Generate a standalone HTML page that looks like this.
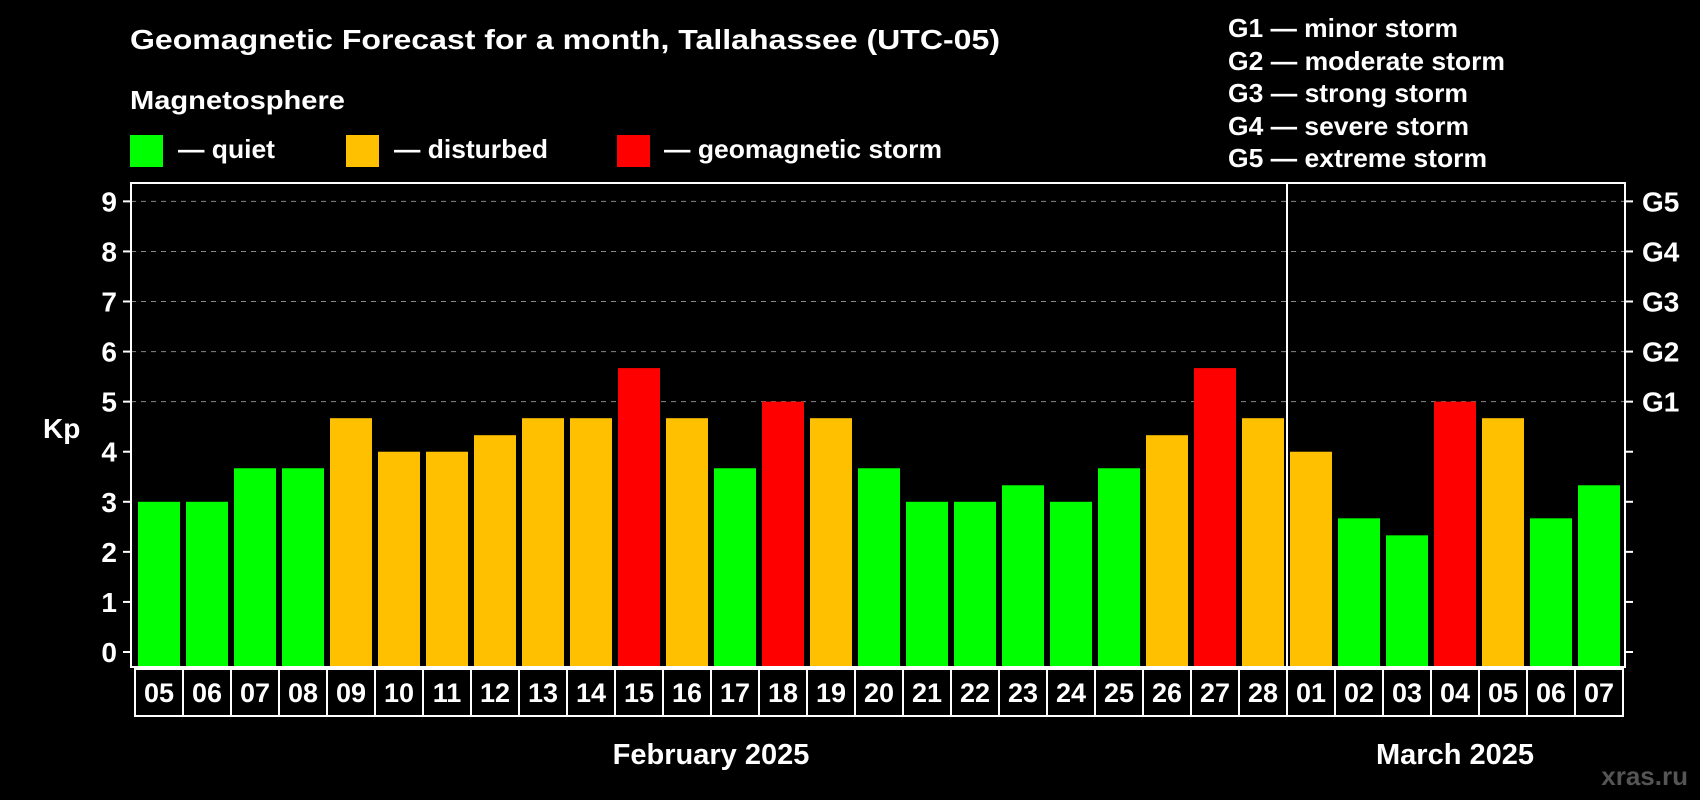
<!DOCTYPE html>
<html><head><meta charset="utf-8"><style>
html,body{margin:0;padding:0;background:#000;}
svg{display:block;font-family:"Liberation Sans",Arial,sans-serif;font-weight:bold;}
</style></head><body>
<svg id="chart" width="1700" height="800" viewBox="0 0 1700 800">
<rect width="1700" height="800" fill="#000"/>
<text x="130" y="49" font-size="28" fill="#fff" textLength="870" lengthAdjust="spacingAndGlyphs">Geomagnetic Forecast for a month, Tallahassee (UTC-05)</text>
<text x="130" y="109" font-size="26" fill="#fff" textLength="215" lengthAdjust="spacingAndGlyphs">Magnetosphere</text>
<g><rect x="130" y="135" width="33" height="32" fill="#00ff00"/><text x="178" y="158" font-size="26" fill="#fff" textLength="97" lengthAdjust="spacingAndGlyphs">— quiet</text></g>
<g><rect x="346" y="135" width="33" height="32" fill="#ffc000"/><text x="394" y="158" font-size="26" fill="#fff" textLength="154" lengthAdjust="spacingAndGlyphs">— disturbed</text></g>
<g><rect x="617" y="135" width="33" height="32" fill="#ff0000"/><text x="664" y="158" font-size="26" fill="#fff" textLength="278" lengthAdjust="spacingAndGlyphs">— geomagnetic storm</text></g>
<g font-size="26" fill="#fff">
<text x="1228" y="37" textLength="230" lengthAdjust="spacingAndGlyphs">G1 — minor storm</text>
<text x="1228" y="70" textLength="277" lengthAdjust="spacingAndGlyphs">G2 — moderate storm</text>
<text x="1228" y="102" textLength="240" lengthAdjust="spacingAndGlyphs">G3 — strong storm</text>
<text x="1228" y="135" textLength="241" lengthAdjust="spacingAndGlyphs">G4 — severe storm</text>
<text x="1228" y="167" textLength="259" lengthAdjust="spacingAndGlyphs">G5 — extreme storm</text>
</g>
<text x="43" y="438" font-size="28" fill="#fff">Kp</text>
<g id="grid"></g><g id="bars"></g><g id="axes"></g><g id="dates"></g>
<text x="711" y="764" font-size="29" fill="#fff" text-anchor="middle">February 2025</text>
<text x="1455" y="764" font-size="29" fill="#fff" text-anchor="middle">March 2025</text>
<text x="1688" y="785" font-size="26" fill="#555" text-anchor="end">xras.ru</text>
</svg>
<script>
const days=["05","06","07","08","09","10","11","12","13","14","15","16","17","18","19","20","21","22","23","24","25","26","27","28","01","02","03","04","05","06","07"];
const kp=[3,3,3.67,3.67,4.67,4,4,4.33,4.67,4.67,5.67,4.67,3.67,5,4.67,3.67,3,3,3.33,3,3.67,4.33,5.67,4.67,4,2.67,2.33,5,4.67,2.67,3.33];
const status=["q","q","q","q","d","d","d","d","d","d","s","d","q","s","d","q","q","q","q","q","q","d","s","d","d","q","q","s","d","q","q"];
const yTicks=[0,1,2,3,4,5,6,7,8,9];
const gLabels=["","","","","","G1","G2","G3","G4","G5"];
const monthSplit=24;
const NS="http://www.w3.org/2000/svg";
const L=131,R=1625,T=183,B=667,x0=138,pitch=48,bw=42;
const y=v=>652-v*50.07;
const x=i=>x0+i*pitch;
const colors={q:"#00ff00",d:"#ffc000",s:"#ff0000"};
function mk(tag,attrs,parent){const e=document.createElementNS(NS,tag);for(const k in attrs)e.setAttribute(k,attrs[k]);document.getElementById(parent).appendChild(e);return e;}
yTicks.forEach((t,i)=>{
 if(t>=5){const g=mk("line",{x1:L,x2:R,y1:y(t),y2:y(t),stroke:"#888","stroke-width":1,"stroke-dasharray":"5,5"},"grid");
 
 }
 const tl=mk("line",{x1:L-8,x2:L,y1:y(t),y2:y(t),stroke:"#fff","stroke-width":2},"axes");
 
 
 const tr=mk("line",{x1:R,x2:R+8,y1:y(t),y2:y(t),stroke:"#fff","stroke-width":2},"axes");
 
 
 const lb=mk("text",{x:117,y:y(t)+10,"font-size":28,fill:"#fff","text-anchor":"end"},"axes");lb.textContent=t;
 
 
 if(gLabels[i]){const gl=mk("text",{x:1642,y:y(t)+10,"font-size":28,fill:"#fff"},"axes");gl.textContent=gLabels[i];
 
 }
});
kp.forEach((v,i)=>{
 const b=mk("rect",{x:x(i),y:y(v),width:bw,height:B-y(v),fill:colors[status[i]]},"bars");
 
 
 const d=mk("rect",{x:x(i)-3,y:669,width:pitch,height:47,fill:"none",stroke:"#fff","stroke-width":2},"dates");
 
 
 const dt=mk("text",{x:x(i)+bw/2,y:702,"font-size":27,fill:"#fff","text-anchor":"middle"},"dates");dt.textContent=days[i];
 
 
});
const fr=mk("rect",{x:L,y:T,width:R-L,height:B-T,fill:"none",stroke:"#fff","stroke-width":2},"axes");


const dv=mk("line",{x1:x(monthSplit)-3,x2:x(monthSplit)-3,y1:T,y2:B,stroke:"#fff","stroke-width":2},"axes");


</script>
</body></html>
